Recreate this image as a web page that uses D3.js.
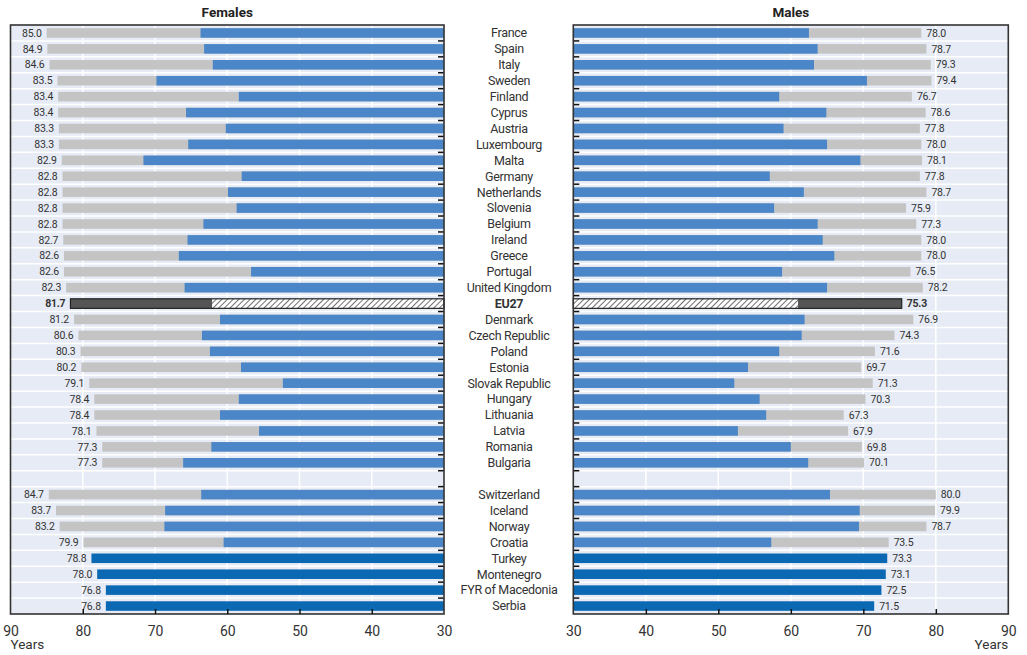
<!DOCTYPE html>
<html><head><meta charset="utf-8">
<script src="https://cdn.jsdelivr.net/npm/d3@7"></script>
<style>
body{margin:0;background:#fff;}
text{font-family:Roboto,'Liberation Sans',sans-serif;}
</style></head>
<body><svg id="c" width="1027" height="655"></svg>
<script>
const countries = ["France","Spain","Italy","Sweden","Finland","Cyprus","Austria","Luxembourg","Malta","Germany","Netherlands","Slovenia","Belgium","Ireland","Greece","Portugal","United Kingdom","EU27","Denmark","Czech Republic","Poland","Estonia","Slovak Republic","Hungary","Lithuania","Latvia","Romania","Bulgaria","","Switzerland","Iceland","Norway","Croatia","Turkey","Montenegro","FYR of Macedonia","Serbia"];
const femaleLE = [85.0,84.9,84.6,83.5,83.4,83.4,83.3,83.3,82.9,82.8,82.8,82.8,82.8,82.7,82.6,82.6,82.3,81.7,81.2,80.6,80.3,80.2,79.1,78.4,78.4,78.1,77.3,77.3,null,84.7,83.7,83.2,79.9,78.8,78.0,76.8,76.8];
const femaleHLY = [63.7,63.2,62.0,69.8,58.4,65.7,60.2,65.4,71.6,58.0,59.9,58.7,63.3,65.5,66.7,56.7,65.9,62.1,61.0,63.5,62.4,58.1,52.3,58.4,61.0,55.6,62.2,66.1,null,63.6,68.6,68.7,60.5,null,null,null,null];
const maleLE = [78.0,78.7,79.3,79.4,76.7,78.6,77.8,78.0,78.1,77.8,78.7,75.9,77.3,78.0,78.0,76.5,78.2,75.3,76.9,74.3,71.6,69.7,71.3,70.3,67.3,67.9,69.8,70.1,null,80.0,79.9,78.7,73.5,73.3,73.1,72.5,71.5];
const maleHLY = [62.5,63.7,63.2,70.5,58.4,64.9,59.0,65.0,69.6,57.1,61.8,57.7,63.7,64.4,66.0,58.8,65.0,61.0,61.9,61.5,58.4,54.1,52.2,55.7,56.6,52.7,60.0,62.4,null,65.4,69.5,69.4,57.3,null,null,null,null];
const xTicks = [90,80,70,60,50,40,30];
const panelTitles = ["Females","Males"];
const highlight = "EU27";

const svg = d3.select("#c");
const C = {blue:"#4a86c8", dark:"#0b68b3", grey:"#c4c4c4", bg:"#e6ebf5", txt:"#333", eu:"#555"};

const defs = svg.append("defs");
const pat = defs.append("pattern").attr("id","hatch").attr("patternUnits","userSpaceOnUse")
  .attr("width",4).attr("height",4).attr("patternTransform","rotate(45)");
pat.append("rect").attr("width",4).attr("height",4).attr("fill","#fff");
pat.append("line").attr("x1",0).attr("y1",0).attr("x2",0).attr("y2",4).attr("stroke","#222").attr("stroke-width",1.3);

const yTop = 25, yBot = 614;
const y = d3.scaleBand().domain(d3.range(countries.length)).range([yTop,yBot]).paddingInner(0.4).paddingOuter(0.2);
const step = y.step();

const panels = [
  {x: d3.scaleLinear().domain([90,30]).range([10.5,444]), le: femaleLE, hly: femaleHLY, side:"left", title: panelTitles[0]},
  {x: d3.scaleLinear().domain([30,90]).range([573.3,1008.3]), le: maleLE, hly: maleHLY, side:"right", title: panelTitles[1]}
];

panels.forEach(p => {
  const x = p.x;
  const x0 = x(30);
  const [r0,r1] = d3.extent(x.range());
  const g = svg.append("g");
  g.append("rect").attr("x",r0).attr("y",yTop).attr("width",r1-r0).attr("height",yBot-yTop).attr("fill",C.bg);
  g.selectAll(".vg").data(xTicks.filter(t=>t!==30&&t!==90)).enter().append("line")
    .attr("x1",d=>x(d)).attr("x2",d=>x(d)).attr("y1",yTop).attr("y2",yBot)
    .attr("stroke","#fff").attr("stroke-width",1.5);
  g.selectAll(".hg").data(d3.range(1,countries.length)).enter().append("line")
    .attr("x1",r0).attr("x2",r1).attr("y1",d=>yTop+d*step).attr("y2",d=>yTop+d*step)
    .attr("stroke","#fff").attr("stroke-width",1.5);

  const rows = countries.map((c,i)=>({c,i,le:p.le[i],hly:p.hly[i]})).filter(d=>d.le!=null);
  rows.forEach(d=>{
    const yy = y(d.i), h = y.bandwidth();
    const xl = x(d.le);
    if (d.c === highlight) {
      const xh = x(d.hly);
      g.append("rect").attr("x",Math.min(x0,xh)).attr("y",yy).attr("width",Math.abs(xh-x0)).attr("height",h)
        .attr("fill","url(#hatch)");
      g.append("rect").attr("x",Math.min(xh,xl)).attr("y",yy).attr("width",Math.abs(xl-xh)).attr("height",h)
        .attr("fill",C.eu);
      g.append("rect").attr("x",Math.min(x0,xl)).attr("y",yy).attr("width",Math.abs(xl-x0)).attr("height",h)
        .attr("fill","none").attr("stroke","#222").attr("stroke-width",1.2);
    } else if (d.hly == null) {
      g.append("rect").attr("x",Math.min(x0,xl)).attr("y",yy).attr("width",Math.abs(xl-x0)).attr("height",h).attr("fill",C.dark);
    } else {
      const xh = x(d.hly);
      g.append("rect").attr("x",Math.min(x0,xl)).attr("y",yy).attr("width",Math.abs(xl-x0)).attr("height",h).attr("fill",C.grey);
      g.append("rect").attr("x",Math.min(x0,xh)).attr("y",yy).attr("width",Math.abs(xh-x0)).attr("height",h).attr("fill",C.blue);
    }
    g.append("text").attr("x", p.side==="left" ? xl-5 : xl+5).attr("y", yy+h/2).attr("dy","0.35em")
      .attr("text-anchor", p.side==="left"?"end":"start")
      .attr("font-size",10.5).attr("fill",C.txt).attr("letter-spacing",-0.2)
      .attr("font-weight", d.c===highlight?"bold":"normal")
      .text(d3.format(".1f")(d.le));
  });

  const tickDir = p.side==="left" ? -6 : 6;
  g.selectAll(".rt").data(d3.range(1,countries.length)).enter().append("line")
    .attr("x1",x0).attr("x2",x0+tickDir).attr("y1",d=>yTop+d*step).attr("y2",d=>yTop+d*step)
    .attr("stroke","#111").attr("stroke-width",1.5);

  g.append("rect").attr("x",r0).attr("y",yTop).attr("width",r1-r0).attr("height",yBot-yTop)
    .attr("fill","none").attr("stroke","#333").attr("stroke-width",1.6);

  const ax = d3.axisBottom(x).tickValues(xTicks).tickSize(-5).tickPadding(12).tickFormat(d3.format("d"));
  const axg = g.append("g").attr("transform",`translate(0,${yBot})`).call(ax);
  axg.select(".domain").remove();
  axg.selectAll(".tick line").attr("stroke","#111").attr("stroke-width",1.5)
    .filter(d=>d===30||d===90).remove();
  axg.selectAll(".tick text").attr("font-size",14).attr("fill",C.txt)
    .style("font-family","Roboto,'Liberation Sans',sans-serif");

  g.append("text").attr("x", p.side==="left"? r0 : r1).attr("y",649)
    .attr("text-anchor", p.side==="left"?"start":"end")
    .attr("font-size",13.5).attr("fill",C.txt).text("Years");

  g.append("text").attr("x",(r0+r1)/2).attr("y",17).attr("text-anchor","middle")
    .attr("font-size",13.5).attr("font-weight","bold").attr("fill","#222").text(p.title);
});

svg.append("g").selectAll("text").data(countries.map((c,i)=>({c,i})).filter(d=>d.c!=="")).enter().append("text")
  .attr("x",509).attr("y",d=>y(d.i)+y.bandwidth()/2).attr("dy","0.35em").attr("text-anchor","middle")
  .attr("font-size",12.5).attr("fill",C.txt).attr("letter-spacing",-0.3)
  .attr("font-weight",d=>d.c===highlight?"bold":"normal")
  .text(d=>d.c);
</script></body></html>
